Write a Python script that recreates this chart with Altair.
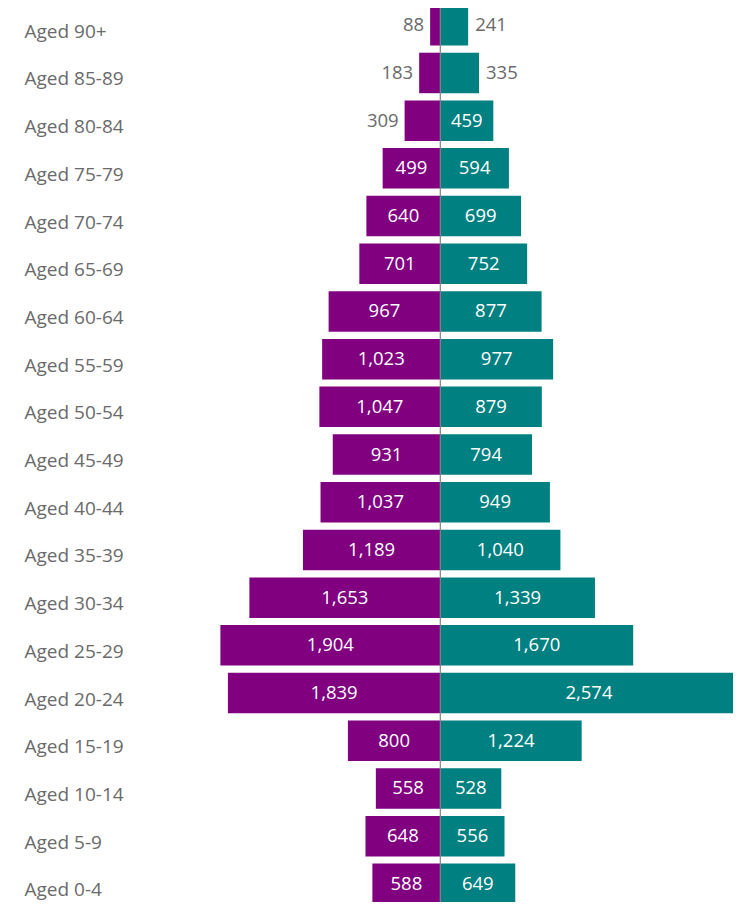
import altair as alt
import pandas as pd

age_groups = [
    "Aged 90+", "Aged 85-89", "Aged 80-84", "Aged 75-79", "Aged 70-74",
    "Aged 65-69", "Aged 60-64", "Aged 55-59", "Aged 50-54", "Aged 45-49",
    "Aged 40-44", "Aged 35-39", "Aged 30-34", "Aged 25-29", "Aged 20-24",
    "Aged 15-19", "Aged 10-14", "Aged 5-9", "Aged 0-4",
]
left_values = [88, 183, 309, 499, 640, 701, 967, 1023, 1047, 931,
               1037, 1189, 1653, 1904, 1839, 800, 558, 648, 588]
right_values = [241, 335, 459, 594, 699, 752, 877, 977, 879, 794,
                949, 1040, 1339, 1670, 2574, 1224, 528, 556, 649]
series_names = ["Series A", "Series B"]
series_colors = ["#800080", "#008080"]

rows = []
for g, l, r in zip(age_groups, left_values, right_values):
    rows.append({"age": g, "series": series_names[0], "value": l, "side": -1})
    rows.append({"age": g, "series": series_names[1], "value": r, "side": 1})
df = pd.DataFrame(rows)

FONT = "Open Sans"
LABEL_GRAY = "#6a6a6a"

x_scale = alt.Scale(domain=[-2600, 2600], range=[0, 600.6], nice=False)
y_scale = alt.Scale(range=[-6.6, 899.7], paddingInner=0.151, paddingOuter=0.0755)
y_enc = alt.Y(
    "age:N", sort=age_groups, scale=y_scale,
    axis=alt.Axis(title=None, domain=False, ticks=False, tickSize=0, grid=False,
                  labelAlign="left", labelBaseline="middle", labelPadding=116,
                  labelOffset=6.5, labelFontSize=19, labelColor=LABEL_GRAY,
                  labelFont=FONT),
)

base = alt.Chart(df).transform_calculate(
    signed="datum.side * datum.value",
    mid="datum.side * datum.value / 2",
)

bars = base.mark_bar().encode(
    x=alt.X("signed:Q", scale=x_scale, axis=None),
    y=y_enc,
    color=alt.Color("series:N", scale=alt.Scale(domain=series_names, range=series_colors), legend=None),
)

center = alt.Chart(pd.DataFrame({"x": [0]})).mark_rule(color="#808080", strokeWidth=1.2).encode(
    x=alt.X("x:Q", scale=x_scale, axis=None)
)

inside = base.transform_filter("datum.value >= 400").mark_text(
    color="white", font=FONT, fontSize=18.5, align="center", baseline="middle"
).encode(
    x=alt.X("mid:Q", scale=x_scale, axis=None),
    y=y_enc,
    text=alt.Text("value:Q", format=",d"),
)

out_left = base.transform_filter("datum.value < 400 && datum.side < 0").mark_text(
    color=LABEL_GRAY, font=FONT, fontSize=18.5, align="right", baseline="middle", dx=-6
).encode(
    x=alt.X("signed:Q", scale=x_scale, axis=None),
    y=y_enc,
    text=alt.Text("value:Q", format=",d"),
)

out_right = base.transform_filter("datum.value < 400 && datum.side > 0").mark_text(
    color=LABEL_GRAY, font=FONT, fontSize=18.5, align="left", baseline="middle", dx=7
).encode(
    x=alt.X("signed:Q", scale=x_scale, axis=None),
    y=y_enc,
    text=alt.Text("value:Q", format=",d"),
)

chart = alt.layer(bars, center, inside, out_left, out_right).properties(
    width=593,
    height=894,
    autosize=alt.AutoSizeParams(type="none"),
    padding={"left": 132, "top": 0, "right": 0, "bottom": 0},
    background="white",
).configure_view(stroke=None)

chart.save("out.html", embed_options={"renderer": "svg", "actions": False})
